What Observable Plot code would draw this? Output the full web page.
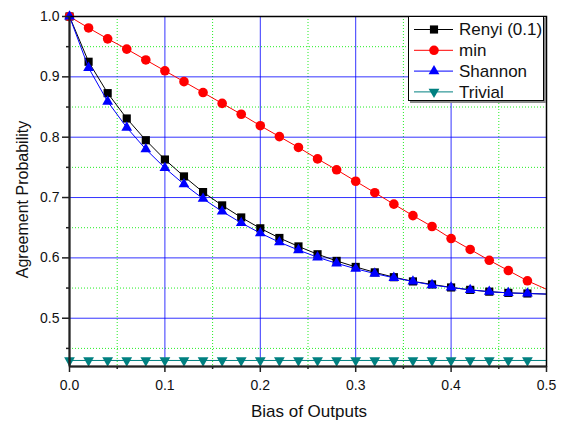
<!DOCTYPE html>
<html><head><meta charset="utf-8">
<script src="https://cdn.jsdelivr.net/npm/d3@7"></script>
<script src="https://cdn.jsdelivr.net/npm/@observablehq/plot@0.6"></script>
<style>
body{margin:0;background:#fff;}
#wrap{position:relative;width:562px;height:421px;}
#legend{position:absolute;left:0;top:0;}
</style></head>
<body><div id="wrap"></div>
<script>
const bias = [0,0.02,0.04,0.06,0.08,0.10,0.12,0.14,0.16,0.18,0.20,0.22,0.24,0.26,0.28,0.30,0.32,0.34,0.36,0.38,0.40,0.42,0.44,0.46,0.48,0.50];
const renyi = [1.0,0.925,0.873,0.831,0.795,0.763,0.735,0.709,0.687,0.667,0.649,0.633,0.619,0.606,0.595,0.585,0.576,0.568,0.561,0.556,0.551,0.547,0.544,0.542,0.541,0.540];
const minEnt = [1.0,0.981,0.963,0.946,0.928,0.910,0.892,0.874,0.856,0.838,0.819,0.801,0.783,0.764,0.746,0.727,0.708,0.689,0.670,0.652,0.632,0.614,0.596,0.579,0.562,0.548];
const shannon = [1.0,0.915,0.859,0.816,0.780,0.749,0.722,0.698,0.677,0.658,0.641,0.626,0.613,0.601,0.591,0.582,0.574,0.567,0.561,0.555,0.551,0.547,0.544,0.542,0.541,0.540];
const trivial = [0.43,0.43,0.43,0.43,0.43,0.43,0.43,0.43,0.43,0.43,0.43,0.43,0.43,0.43,0.43,0.43,0.43,0.43,0.43,0.43,0.43,0.43,0.43,0.43,0.43,0.43];
const seriesNames = ["Renyi (0.1)","min","Shannon","Trivial"];
const seriesColors = ["#000000","#ff0000","#0000ff","#008080"];
const seriesSymbols = ["square","circle","triangle","triangle"];
const seriesRotate = [0,0,0,180];
const xMajorTicks = [0,0.1,0.2,0.3,0.4,0.5];
const xMinorTicks = [0.05,0.15,0.25,0.35,0.45];
const yMajorTicks = [0.5,0.6,0.7,0.8,0.9,1.0];
const yMinorTicks = [0.45,0.55,0.65,0.75,0.85,0.95];

const allVals = [renyi,minEnt,shannon,trivial];
const rows = [];
seriesNames.forEach((name,i)=>bias.forEach((b,j)=>rows.push({series:name,idx:i,x:b,y:allVals[i][j]})));
const markerRows = rows.filter(d=>d.x<0.49);
const radius = [4.6,4.8,4.0,4.0];

const marks = [
  Plot.gridX(xMinorTicks,{stroke:"#22ee22",strokeOpacity:1,strokeDasharray:"1,2"}),
  Plot.gridY(yMinorTicks,{stroke:"#22ee22",strokeOpacity:1,strokeDasharray:"1,2"}),
  Plot.gridX(xMajorTicks.filter(v=>v>0&&v<0.5),{stroke:"#0000ff",strokeOpacity:0.8}),
  Plot.gridY(yMajorTicks.filter(v=>v<1),{stroke:"#0000ff",strokeOpacity:0.8}),
];
seriesNames.forEach((name,i)=>{
  marks.push(Plot.line(rows.filter(d=>d.idx===i),{x:"x",y:"y",stroke:seriesColors[i],strokeWidth:1}));
  marks.push(Plot.dot(markerRows.filter(d=>d.idx===i),{x:"x",y:"y",symbol:seriesSymbols[i],fill:seriesColors[i],stroke:"none",r:radius[i],rotate:seriesRotate[i]}));
});
marks.push(
  Plot.frame({stroke:"#000",strokeWidth:1.5}),
  Plot.ruleX([0],{stroke:"#222",strokeWidth:2}),
  Plot.ruleY([0.42],{stroke:"#222",strokeWidth:2}),
  Plot.axisX({ticks:xMajorTicks,tickFormat:d3.format(".1f"),tickSize:6,tickPadding:8,label:null,fontSize:14,stroke:"#222",strokeWidth:1.5}),
  Plot.axisX({ticks:xMinorTicks,tickFormat:()=>"",tickSize:3,label:null,stroke:"#222",strokeWidth:1.5}),
  Plot.axisY({ticks:yMajorTicks,tickFormat:d3.format(".1f"),tickSize:7,tickPadding:3,label:null,fontSize:14,stroke:"#222",strokeWidth:1.5}),
  Plot.axisY({ticks:yMinorTicks,tickFormat:()=>"",tickSize:3,label:null,stroke:"#222",strokeWidth:1.5}),
  Plot.text(["Bias of Outputs"],{frameAnchor:"bottom",dx:1,dy:45,lineAnchor:"middle",fontSize:17,fill:"#111"}),
  Plot.text(["Agreement Probability"],{frameAnchor:"left",dx:-47,dy:8,rotate:-90,lineAnchor:"middle",textAnchor:"middle",fontSize:16,fill:"#111"})
);

const chart = Plot.plot({
  width:562,height:421,
  marginLeft:69,marginRight:16,marginTop:16,marginBottom:55,
  style:{fontFamily:"'Liberation Sans', Arial, sans-serif",fontSize:"14px",background:"white",color:"#111"},
  x:{domain:[0,0.5]},
  y:{domain:[0.42,1.0]},
  marks
});
const wrap = document.getElementById("wrap");
wrap.appendChild(chart);

// legend overlay
const lg = d3.select(wrap).append("svg").attr("id","legend").attr("width",562).attr("height",421)
  .style("font-family","'Liberation Sans', Arial, sans-serif");
lg.append("rect").attr("x",410).attr("y",18).attr("width",136).attr("height",85).attr("fill","#888");
lg.append("rect").attr("x",408.5).attr("y",16.5).attr("width",135).attr("height",84).attr("fill","white").attr("stroke","#000").attr("stroke-width",1);
const symMap = {square:d3.symbolSquare,circle:d3.symbolCircle,triangle:d3.symbolTriangle};
seriesNames.forEach((name,i)=>{
  const cy = 29.5 + i*20.8;
  lg.append("line").attr("x1",414).attr("x2",453).attr("y1",cy).attr("y2",cy).attr("stroke",seriesColors[i]);
  lg.append("path").attr("d",d3.symbol(symMap[seriesSymbols[i]], Math.PI*radius[i]*radius[i])())
    .attr("transform",`translate(434,${cy}) rotate(${seriesRotate[i]})`).attr("fill",seriesColors[i]);
  lg.append("text").attr("x",459).attr("y",cy).attr("dy","0.35em").attr("font-size",17).attr("fill","#111").text(name);
});
</script></body></html>
